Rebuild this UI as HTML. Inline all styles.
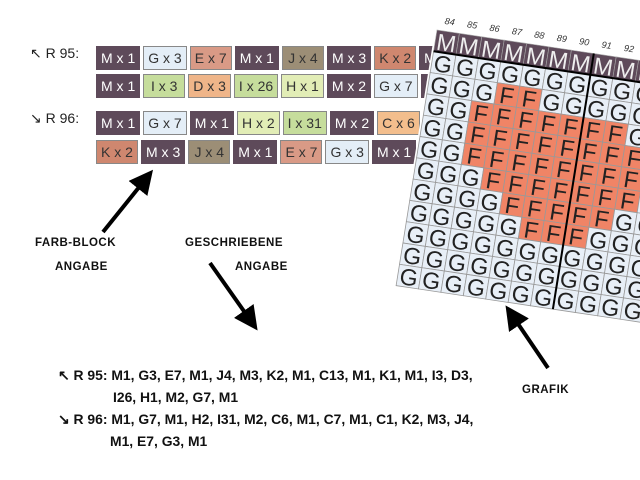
<!DOCTYPE html>
<html><head><meta charset="utf-8"><style>
body{margin:0;width:640px;height:480px;background:#fff;position:relative;overflow:hidden;font-family:"Liberation Sans",sans-serif}
.row{position:absolute;left:96px;display:flex;height:24px}
.b{height:22px;line-height:22px;font-size:14px;padding:0 4px;margin-right:3px;border:1px solid #888;color:#fff;white-space:nowrap;min-width:32px;text-align:center}
.M{background:#5e4a5a;border-color:#5e4a5a}
.G{background:#e4eef7;color:#333}
.E{background:#d99a86;color:#333}
.J{background:#9c8e76;color:#333}
.K{background:#cf876f;color:#333}
.I{background:#c6dd9c;color:#333}
.D{background:#efb589;color:#333}
.H{background:#e2edb6;color:#333}
.C{background:#f3be8d;color:#333}
.lab{position:absolute;font-size:14px;color:#222}
.cm{position:absolute;font-size:11.5px;font-weight:bold;color:#111;letter-spacing:0.5px}
.t{position:absolute;font-size:13.9px;font-weight:bold;color:#111;white-space:nowrap}
</style></head><body>
<div class="lab" style="left:30px;top:45px">↖ R 95:</div>
<div class="lab" style="left:30px;top:110px">↘ R 96:</div>
<div class="row" style="top:46px"><div class="b M">M x 1</div><div class="b G">G x 3</div><div class="b E">E x 7</div><div class="b M">M x 1</div><div class="b J">J x 4</div><div class="b M">M x 3</div><div class="b K">K x 2</div><div class="b M">M x 1</div></div>
<div class="row" style="top:74px"><div class="b M">M x 1</div><div class="b I">I x 3</div><div class="b D">D x 3</div><div class="b I">I x 26</div><div class="b H">H x 1</div><div class="b M">M x 2</div><div class="b G">G x 7</div><div class="b M">M x 1</div></div>
<div class="row" style="top:111px"><div class="b M">M x 1</div><div class="b G">G x 7</div><div class="b M">M x 1</div><div class="b H">H x 2</div><div class="b I">I x 31</div><div class="b M">M x 2</div><div class="b C">C x 6</div><div class="b M">M x 1</div></div>
<div class="row" style="top:140px"><div class="b K">K x 2</div><div class="b M">M x 3</div><div class="b J">J x 4</div><div class="b M">M x 1</div><div class="b E">E x 7</div><div class="b G">G x 3</div><div class="b M">M x 1</div></div>

<svg width="640" height="480" style="position:absolute;left:0;top:0">
<defs><marker id="a" markerWidth="6" markerHeight="6" refX="4" refY="3" orient="auto"><path d="M0,0 L6,3 L0,6 Z" fill="#000"/></marker></defs>
<g stroke="#000" stroke-width="4" fill="none">
<line x1="103" y1="232" x2="148" y2="176" marker-end="url(#a)"/>
<line x1="210" y1="263" x2="253" y2="324" marker-end="url(#a)"/>
<line x1="548" y1="368" x2="510" y2="312" marker-end="url(#a)"/>
</g>
<g id="grid" transform="matrix(1,0.15,-0.16,1,437,30)"></g>
</svg>
<div class="cm" style="left:35px;top:237px">FARB-BLOCK</div>
<div class="cm" style="left:55px;top:261px">ANGABE</div>
<div class="cm" style="left:185px;top:237px">GESCHRIEBENE</div>
<div class="cm" style="left:235px;top:261px">ANGABE</div>
<div class="cm" style="left:522px;top:384px">GRAFIK</div>
<div class="t" style="left:58px;top:367px">↖ R 95: M1, G3, E7, M1, J4, M3, K2, M1, C13, M1, K1, M1, I3, D3,</div>
<div class="t" style="left:113px;top:389px">I26, H1, M2, G7, M1</div>
<div class="t" style="left:58px;top:411px">↘ R 96: M1, G7, M1, H2, I31, M2, C6, M1, C7, M1, C1, K2, M3, J4,</div>
<div class="t" style="left:110px;top:433px">M1, E7, G3, M1</div>
<script>
var rows=["GGGGGGGGGGG","GGGFFGGGGGG","GGFFFFFFFGG","GGFFFFFFFFG","GGFFFFFFFFG","GGGFFFFFFFG","GGGGFFFFFGG","GGGGGFFFGGG","GGGGGGGGGGG","GGGGGGGGGGG","GGGGGGGGGGG"];
var W=22.4,H=21.3,s='',N=11;
s+='<rect x="-2" y="-2" width="'+(N*W+4)+'" height="'+(H*12+4)+'" fill="#fff"/>';
for(var c=0;c<N;c++){
 s+='<rect x="'+c*W+'" y="0" width="'+W+'" height="'+H+'" fill="#5e4a5a" stroke="#aaa" stroke-width="0.6"/>';
 s+='<text x="'+(c*W+W/2)+'" y="'+(H-2)+'" font-size="23" fill="#eee" text-anchor="middle" font-family="Liberation Sans">M</text>';
 s+='<text x="'+(c*W+W/2)+'" y="-7" font-size="9" font-style="italic" fill="#333" text-anchor="middle" font-family="Liberation Sans">'+(84+c)+'</text>';
}
for(var r=0;r<rows.length;r++)for(var c=0;c<N;c++){
 var ch=rows[r][c],y=(r+1)*H;
 s+='<rect x="'+c*W+'" y="'+y+'" width="'+W+'" height="'+H+'" fill="'+(ch=="F"?"#f08466":"#e8eff7")+'" stroke="#999" stroke-width="0.8"/>';
 s+='<text x="'+(c*W+W/2)+'" y="'+(y+H-2)+'" font-size="23" fill="#222" text-anchor="middle" font-family="Liberation Sans">'+ch+'</text>';
}
s+='<line x1="0" y1="'+H+'" x2="'+N*W+'" y2="'+H+'" stroke="#000" stroke-width="2"/>';
s+='<line x1="'+7*W+'" y1="0" x2="'+7*W+'" y2="'+12*H+'" stroke="#000" stroke-width="2"/>';
document.getElementById('grid').innerHTML=s;
</script>
</body></html>
